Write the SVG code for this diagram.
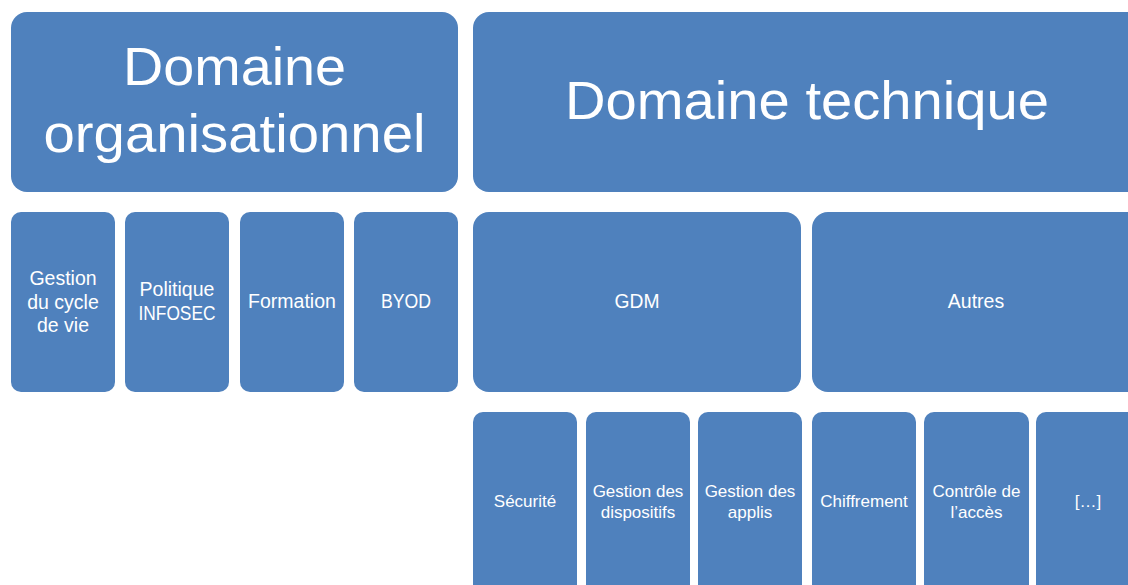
<svg xmlns="http://www.w3.org/2000/svg" width="1128" height="585" viewBox="0 0 1128 585">
<style>
.box{fill:#4F81BD}
text{fill:#FFFFFF;font-family:"Liberation Sans",Arial,sans-serif;text-anchor:middle}
.big{font-size:54px}
.mid{font-size:19.5px}
.sm{font-size:17px}
</style>
<rect width="1128" height="585" fill="#FFFFFF"/>
<g id="connectors"></g>
<g id="domaine-organisationnel">
<rect class="box" x="11" y="12" width="447" height="180" rx="16"/>
<text class="big" x="234.5" y="85" textLength="223" lengthAdjust="spacingAndGlyphs">Domaine</text>
<text class="big" x="234.5" y="152" textLength="382" lengthAdjust="spacingAndGlyphs">organisationnel</text>
</g>
<g id="domaine-technique">
<rect class="box" x="473" y="12" width="680" height="180" rx="16"/>
<text class="big" x="807" y="119" textLength="484" lengthAdjust="spacingAndGlyphs">Domaine technique</text>
</g>
<g id="gestion-cycle-vie">
<rect class="box" x="11" y="212" width="104" height="180" rx="10"/>
<text class="mid" x="63" y="285">Gestion</text>
<text class="mid" x="63" y="308.5">du cycle</text>
<text class="mid" x="63" y="332">de vie</text>
</g>
<g id="politique-infosec">
<rect class="box" x="125" y="212" width="104" height="180" rx="10"/>
<text class="mid" x="177" y="296">Politique</text>
<text class="mid" x="177" y="320" textLength="77" lengthAdjust="spacingAndGlyphs">INFOSEC</text>
</g>
<g id="formation">
<rect class="box" x="240" y="212" width="104" height="180" rx="10"/>
<text class="mid" x="292" y="308">Formation</text>
</g>
<g id="byod">
<rect class="box" x="354" y="212" width="104" height="180" rx="10"/>
<text class="mid" x="406" y="308" textLength="50" lengthAdjust="spacingAndGlyphs">BYOD</text>
</g>
<g id="gdm">
<rect class="box" x="473" y="212" width="328" height="180" rx="16"/>
<text class="mid" x="637" y="308" textLength="45" lengthAdjust="spacingAndGlyphs">GDM</text>
</g>
<g id="autres">
<rect class="box" x="812" y="212" width="340" height="180" rx="16"/>
<text class="mid" x="976" y="308">Autres</text>
</g>
<g id="securite">
<rect class="box" x="473" y="412" width="104" height="190" rx="10"/>
<text class="sm" x="525" y="507">Sécurité</text>
</g>
<g id="gestion-dispositifs">
<rect class="box" x="586" y="412" width="104" height="190" rx="10"/>
<text class="sm" x="638" y="497">Gestion des</text>
<text class="sm" x="638" y="518">dispositifs</text>
</g>
<g id="gestion-applis">
<rect class="box" x="698" y="412" width="104" height="190" rx="10"/>
<text class="sm" x="750" y="497">Gestion des</text>
<text class="sm" x="750" y="518">applis</text>
</g>
<g id="chiffrement">
<rect class="box" x="812" y="412" width="104" height="190" rx="10"/>
<text class="sm" x="864" y="507">Chiffrement</text>
</g>
<g id="controle-acces">
<rect class="box" x="924" y="412" width="105" height="190" rx="10"/>
<text class="sm" x="976.5" y="497">Contrôle de</text>
<text class="sm" x="976.5" y="518">l’accès</text>
</g>
<g id="autres-etc">
<rect class="box" x="1036" y="412" width="104" height="190" rx="10"/>
<text class="sm" x="1088" y="507">[…]</text>
</g>
</svg>
